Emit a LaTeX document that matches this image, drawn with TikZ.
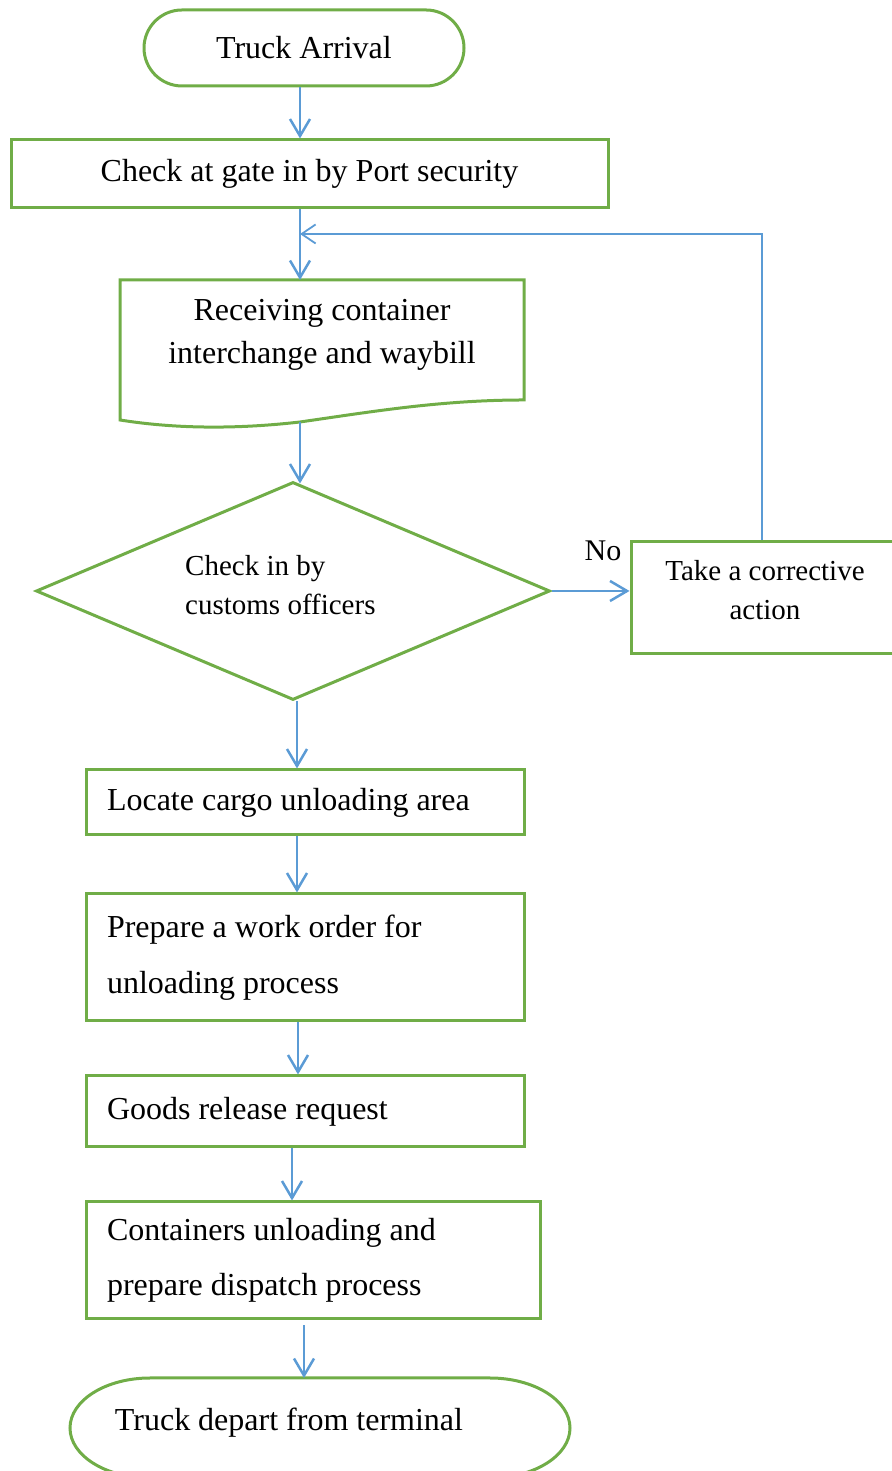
\documentclass[tikz,border=0pt]{standalone}
\usepackage{fontspec}
\setmainfont{Liberation Serif}
\usetikzlibrary{arrows.meta,shapes.geometric,shapes.misc}
\definecolor{gr}{HTML}{70AD47}
\definecolor{bl}{HTML}{5B9BD5}
\begin{document}
\begin{tikzpicture}[x=1pt,y=1pt,
  main/.style={font=\fontsize{32}{38}\selectfont},
  small/.style={font=\fontsize{29}{39}\selectfont},
  box/.style={draw=gr, line width=3pt, rectangle, inner sep=0pt},
  lbox/.style={box, align=flush left, inner xsep=21pt},
  arr/.style={draw=bl, line width=2.5pt, -{Straight Barb[length=17pt,width=20pt]}},
  fb/.style={draw=bl, line width=1.8pt, -{Straight Barb[length=14pt,width=19pt]}},
  outline/.style={draw=gr, line width=3pt}
]
\useasboundingbox (0,0) rectangle (891,1471);

% start terminal
\node[rounded rectangle, outline, minimum width=320pt, minimum height=76pt, inner sep=0pt, main] (ta) at (304,1423) {Truck Arrival};

% gate check
\node[box, minimum width=597pt, minimum height=68pt, main] (b1) at (309.5,1297) {Check at gate in by Port security};

% document shape
\draw[outline] (120,1191) -- (524,1191) -- (524,1071)
  .. controls (440,1071) and (370,1059) .. (300,1049)
  .. controls (230,1041) and (170,1043) .. (120,1051) -- cycle;
\node[font=\fontsize{32}{43}\selectfont, align=center, inner sep=0pt] (doc) at (322,1136) {Receiving container\\interchange and waybill};
\coordinate (doctop) at (300,1191);
\coordinate (docbot) at (300,1049);
\coordinate (join) at (300,1237);

% decision
\node[diamond, outline, minimum width=514pt, minimum height=218pt, inner sep=0pt] (dia) at (293,880) {};
\node[small, align=left, anchor=west, inner sep=0pt] (diat) at (185,886) {Check in by\\customs officers};

% corrective action
\node[box, minimum width=266pt, minimum height=112pt] (corr) at (764,873) {};
\node[small, align=center, inner sep=0pt] (corrt) at (765,880.5) {Take a corrective\\action};
\node[font=\fontsize{30}{36}\selectfont, inner sep=0pt] (no) at (603,920) {No};

% lower boxes
\node[lbox, text width=396pt, minimum width=438pt, minimum height=65pt, main] (b3) at (305,668.5) {Locate cargo unloading area};
\node[lbox, text width=396pt, minimum width=438pt, minimum height=127pt, font=\fontsize{32}{56}\selectfont] (b4) at (305,513.5) {Prepare a work order for\\unloading process};
\node[lbox, text width=396pt, minimum width=438pt, minimum height=71pt, main] (b5) at (305,359.5) {Goods release request};
\node[lbox, text width=412pt, minimum width=454pt, minimum height=117pt, font=\fontsize{32}{55}\selectfont] (b6) at (313,210.5) {Containers unloading and\\prepare dispatch process};

% end terminal
\draw[outline] (150,93) -- (490,93) arc[start angle=90, end angle=-90, x radius=80, y radius=50]
  -- (150,-7) arc[start angle=270, end angle=90, x radius=80, y radius=50] -- cycle;
\node[main, inner sep=0pt] (dep) at (289,48) {Truck depart from terminal};
\coordinate (deptop) at (304,93);

% connectors
\draw[arr] (ta.south -| doctop) -- (b1.north -| doctop);
\draw[arr] (b1.south -| doctop) -- (doctop);
\draw[fb] ([xshift=-2pt]corr.north) |- (join);
\draw[arr] (docbot) -- ([yshift=-3pt]docbot |- dia.north);
\draw[arr] (dia.east) -- (dia.east -| corr.west);
\draw[arr] ([xshift=4pt]dia.south) -- ([xshift=4pt]dia.south |- b3.north);
\draw[arr] ([xshift=-8pt]b3.south) -- ([xshift=-8pt]b3.south |- b4.north);
\draw[arr] ([xshift=-7pt]b4.south) -- ([xshift=-7pt]b4.south |- b5.north);
\draw[arr] ([xshift=-13pt]b5.south) -- ([xshift=-13pt]b5.south |- b6.north);
\draw[arr] ([shift={(-9pt,-5pt)}]b6.south) -- (deptop);
\end{tikzpicture}
\end{document}
